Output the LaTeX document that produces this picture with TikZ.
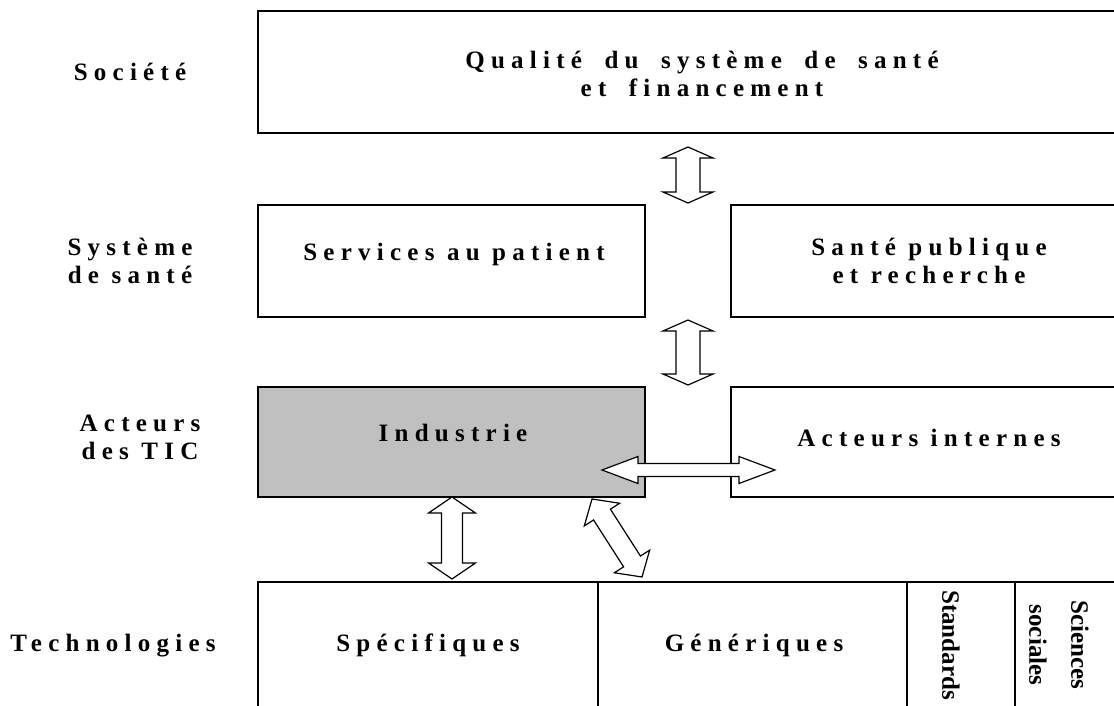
\documentclass[tikz,border=0pt]{standalone}
\usepackage{fontspec}
\setmainfont{Liberation Serif}
\newfontfamily\lspfont[LetterSpace=25]{Liberation Serif}
\usetikzlibrary{calc}
\definecolor{boxgray}{RGB}{192,192,192}
\newcommand\blkarr[5]{%
  \path ($(#1)!#3!(#2)$) coordinate (h1) ($(#2)!#3!(#1)$) coordinate (h2);
  \draw[arrowbox] (#1) -- ($(h1)!#4!90:(#2)$) -- ($(h1)!#5!90:(#2)$)
    -- ($(h2)!#5!-90:(#1)$) -- ($(h2)!#4!-90:(#1)$) -- (#2)
    -- ($(h2)!#4!90:(#1)$) -- ($(h2)!#5!90:(#1)$)
    -- ($(h1)!#5!-90:(#2)$) -- ($(h1)!#4!-90:(#2)$) -- cycle;}
\newcommand\wsp{\hspace{10pt}}
\tikzset{
  boxline/.style={draw=black, line width=1.2pt},
  arrowbox/.style={draw=black, fill=white, line width=1.2pt, line join=miter},
  lbl/.style={font=\lspfont\bfseries\fontsize{25}{28}\selectfont, align=center, inner sep=0pt, anchor=center},
  vlbl/.style={font=\bfseries\fontsize{25}{42}\selectfont, align=center, inner sep=0pt, anchor=center, rotate=-90},
}
\begin{document}
\begin{tikzpicture}[x=1pt, y=-1pt]
\clip (0,0) rectangle (1114,706);
\fill[white] (0,0) rectangle (1114,706);
% boxes
\draw[boxline] (258,11) rectangle (1125,133);
\draw[boxline] (258,205) rectangle (645,317);
\draw[boxline] (731,205) rectangle (1125,317);
\draw[boxline, fill=boxgray] (258,387) rectangle (645,497);
\draw[boxline] (731,387) rectangle (1125,497);
\draw[boxline] (258,720) -- (258,582) -- (1125,582);
\draw[boxline] (598,582) -- (598,720);
\draw[boxline] (907,582) -- (907,720);
\draw[boxline] (1015,582) -- (1015,720);
% row labels
\node[lbl] (soc) at (130,72) {Société};
\node[lbl] (sys) at (130,261) {Système\\de santé};
\node[lbl] (act) at (140,437) {Acteurs\\des TIC};
\node[lbl] (tech) at (113,646) {Technologies};
% box texts
\node[lbl] (qual) at (702,74) {Qualité \wsp du \wsp système \wsp de \wsp santé\\et \wsp financement};
\node[lbl] (serv) at (454,254) {Services au patient};
\node[lbl] (sante) at (929,261) {Santé publique\\et recherche};
\node[lbl] (ind) at (453,433) {Industrie};
\node[lbl] (acti) at (929,438) {Acteurs internes};
\node[lbl] (spec) at (428,645) {Spécifiques};
\node[lbl] (gen) at (754,645) {Génériques};
\node[vlbl] (std) at (951,645) {Standards};
\node[vlbl] (scs) at (1059,645) {Sciences\\sociales};
% arrows
\coordinate (a1s) at (688,147); \coordinate (a1e) at (688,203);
\blkarr{a1s}{a1e}{11pt}{25pt}{12pt}
\coordinate (a2s) at (688,320); \coordinate (a2e) at (688,385);
\blkarr{a2s}{a2e}{11pt}{25pt}{12pt}
\coordinate (a3s) at (452,497); \coordinate (a3e) at (452,579);
\blkarr{a3s}{a3e}{16pt}{23.5pt}{10.5pt}
\coordinate (a4s) at (602,470); \coordinate (a4e) at (775,470);
\blkarr{a4s}{a4e}{36pt}{13.5pt}{6.5pt}
\coordinate (a5s) at (592,499); \coordinate (a5e) at (642,577);
\blkarr{a5s}{a5e}{18.5pt}{21pt}{10pt}
\end{tikzpicture}
\end{document}
